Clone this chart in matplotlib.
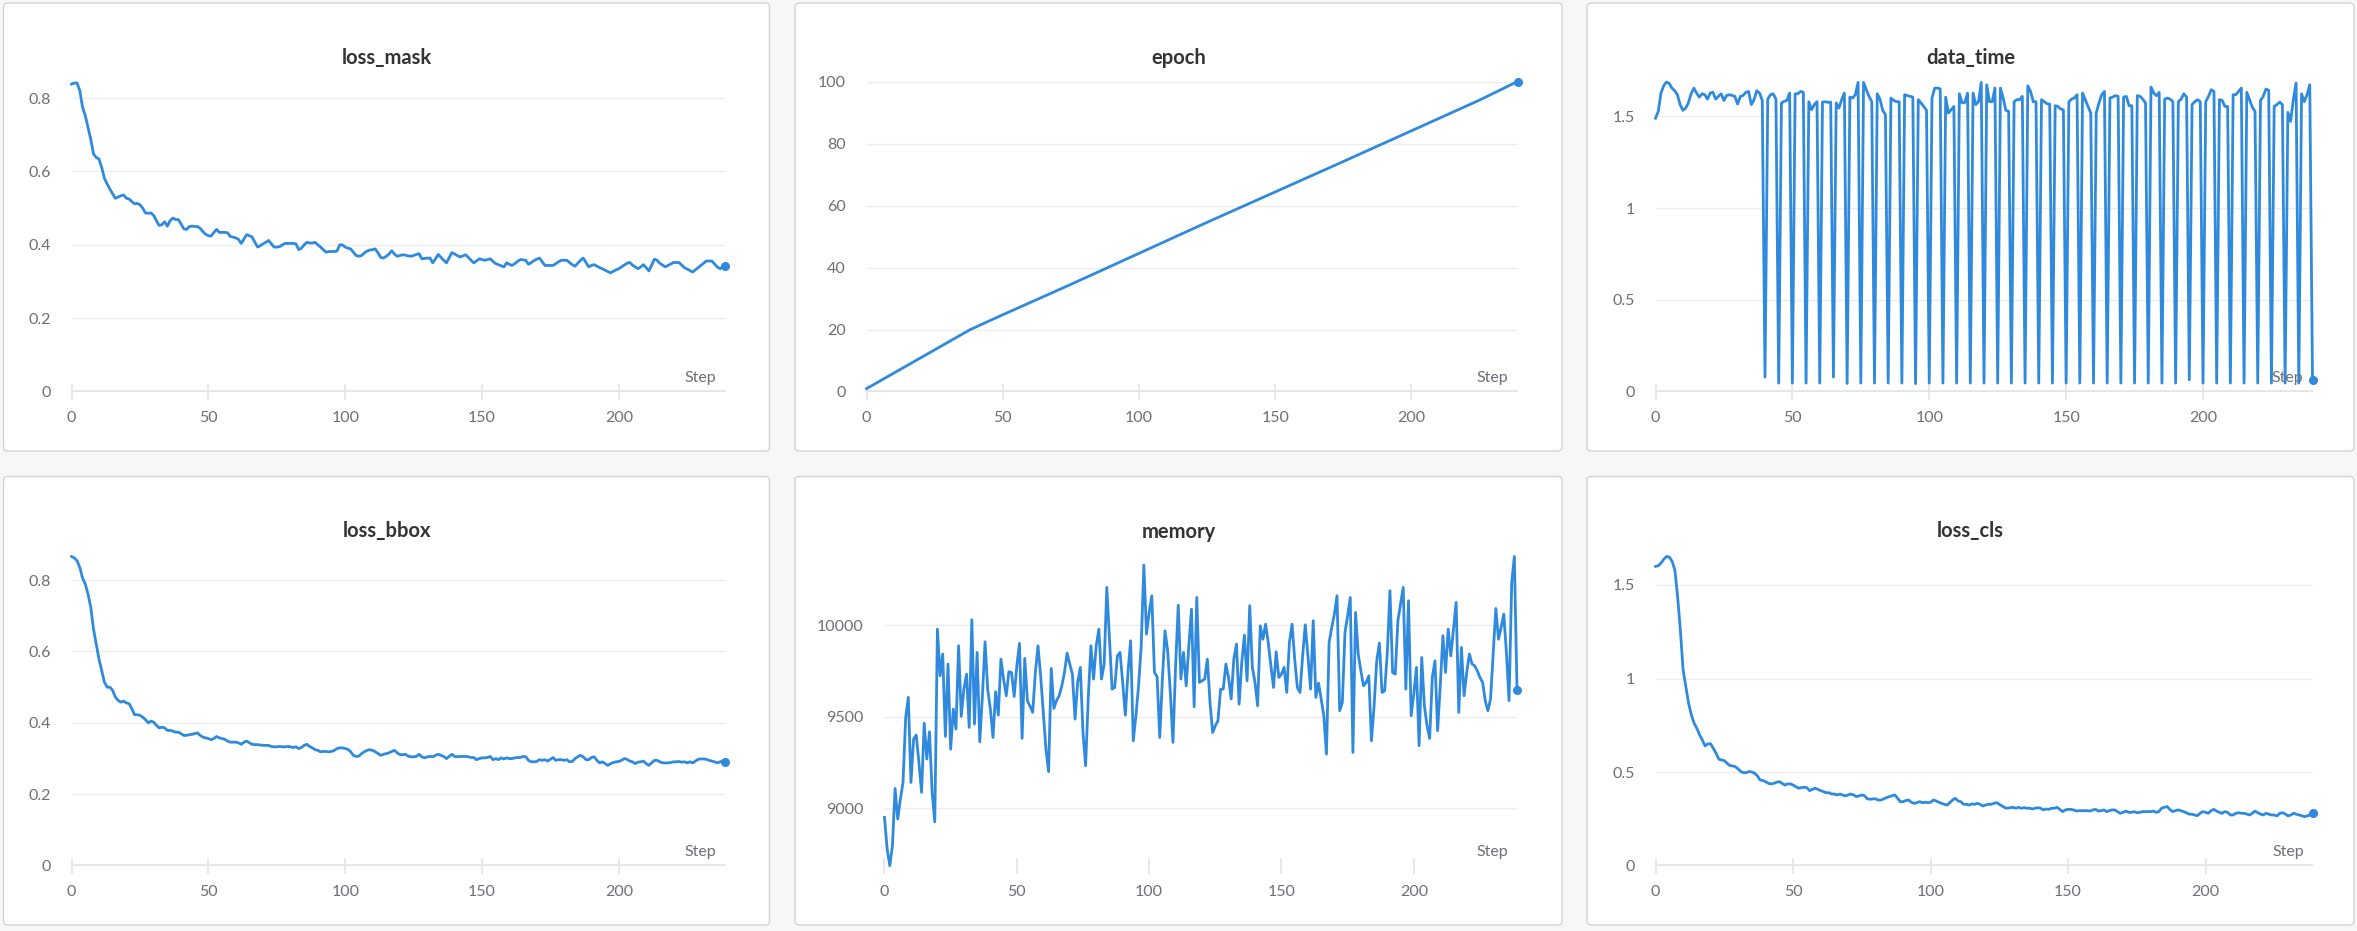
import numpy as np
import matplotlib.pyplot as plt
from matplotlib.patches import FancyBboxPatch
from matplotlib.transforms import IdentityTransform
from matplotlib.ticker import FuncFormatter

plt.rcParams['font.family'] = ['Lato', 'DejaVu Sans']

W, H = 2357, 931
LINE = '#2f8ade'
TICK_TXT = '#6e6e78'

# ---- data ----
steps = np.arange(240)
steps_dt = np.arange(241)

loss_mask = [
    0.838, 0.841, 0.841, 0.82, 0.775, 0.752, 0.72, 0.688, 0.648, 0.638,
    0.634, 0.611, 0.581, 0.566, 0.552, 0.539, 0.527, 0.53, 0.534, 0.536,
    0.527, 0.525, 0.518, 0.512, 0.513, 0.509, 0.5, 0.487, 0.486, 0.487,
    0.48, 0.466, 0.453, 0.455, 0.463, 0.451, 0.466, 0.473, 0.469, 0.469,
    0.457, 0.444, 0.442, 0.45, 0.451, 0.45, 0.45, 0.445, 0.436, 0.429,
    0.425, 0.424, 0.434, 0.442, 0.434, 0.434, 0.434, 0.433, 0.423, 0.421,
    0.419, 0.415, 0.404, 0.416, 0.428, 0.425, 0.421, 0.407, 0.394, 0.398,
    0.403, 0.407, 0.412, 0.403, 0.394, 0.394, 0.395, 0.4, 0.404, 0.404,
    0.404, 0.404, 0.403, 0.387, 0.391, 0.4, 0.407, 0.405, 0.405, 0.407,
    0.4, 0.394, 0.387, 0.38, 0.382, 0.382, 0.382, 0.383, 0.4, 0.4,
    0.394, 0.391, 0.389, 0.38, 0.371, 0.369, 0.371, 0.378, 0.383, 0.386,
    0.387, 0.389, 0.378, 0.366, 0.364, 0.369, 0.375, 0.384, 0.375,
    0.369, 0.371, 0.373, 0.372, 0.37, 0.369, 0.371, 0.374, 0.376, 0.362,
    0.363, 0.364, 0.364, 0.351, 0.362, 0.374, 0.366, 0.358, 0.351, 0.365,
    0.379, 0.375, 0.371, 0.367, 0.37, 0.373, 0.366, 0.358, 0.351, 0.356,
    0.362, 0.36, 0.358, 0.36, 0.362, 0.355, 0.349, 0.346, 0.343, 0.34,
    0.351, 0.347, 0.344, 0.349, 0.355, 0.36, 0.359, 0.358, 0.347, 0.352,
    0.357, 0.361, 0.364, 0.354, 0.344, 0.344, 0.344, 0.344, 0.349, 0.354,
    0.358, 0.358, 0.358, 0.352, 0.346, 0.342, 0.35, 0.358, 0.364, 0.352,
    0.34, 0.344, 0.346, 0.342, 0.338, 0.335, 0.331, 0.327, 0.324, 0.328,
    0.332, 0.335, 0.34, 0.345, 0.35, 0.352, 0.345, 0.34, 0.335, 0.34,
    0.346, 0.338, 0.329, 0.345, 0.361, 0.358, 0.35, 0.345, 0.34, 0.344,
    0.348, 0.352, 0.352, 0.352, 0.345, 0.338, 0.334, 0.33, 0.326, 0.332,
    0.338, 0.344, 0.35, 0.356, 0.356, 0.356, 0.348, 0.34, 0.335, 0.34,
    0.342,
]

epoch_steps = [0, 10, 20, 30, 38, 50, 75, 100, 125, 150, 175, 200, 225, 239]
epoch = [1, 6, 11, 16, 20, 24.8, 34.6, 44.6, 54.6, 64.4, 74.2, 84.1, 94, 100]

data_time = [
    1.49, 1.527, 1.627, 1.667, 1.687, 1.68, 1.654, 1.64, 1.618, 1.564,
    1.533, 1.545, 1.573, 1.623, 1.654, 1.627, 1.605, 1.623, 1.618, 1.594,
    1.627, 1.631, 1.594, 1.609, 1.623, 1.587, 1.614, 1.618, 1.614, 1.609,
    1.567, 1.609, 1.614, 1.631, 1.636, 1.564, 1.591, 1.64, 1.627, 1.587,
    0.08, 1.594, 1.618, 1.623, 1.594, 0.047, 1.573, 1.582, 1.587, 1.627,
    0.047, 1.623, 1.623, 1.636, 1.631, 0.047, 1.58, 1.536, 1.564, 1.58,
    0.047, 1.578, 1.58, 1.576, 1.578, 0.08, 1.573, 1.545, 1.591, 1.627,
    0.045, 1.605, 1.6, 1.618, 1.685, 0.047, 1.685, 1.645, 1.609, 1.58,
    0.047, 1.623, 1.594, 1.533, 1.509, 0.047, 1.6, 1.587, 1.58, 1.58,
    0.047, 1.618, 1.613, 1.609, 1.605, 0.044, 1.591, 1.573, 1.554, 1.533,
    0.047, 1.6, 1.654, 1.654, 1.65, 0.047, 1.605, 1.518, 1.536, 1.554,
    0.047, 1.623, 1.573, 1.576, 1.627, 0.047, 1.627, 1.564, 1.58, 1.685,
    0.047, 1.672, 1.58, 1.58, 1.654, 0.047, 1.654, 1.6, 1.533, 1.527,
    0.047, 1.58, 1.591, 1.591, 1.609, 0.047, 1.667, 1.636, 1.58, 1.58,
    0.047, 1.591, 1.58, 1.569, 1.567, 0.047, 1.558, 1.554, 1.54, 1.536,
    0.047, 1.58, 1.594, 1.6, 1.618, 0.047, 1.627, 1.591, 1.554, 1.518,
    0.047, 1.518, 1.573, 1.618, 1.636, 0.047, 1.6, 1.605, 1.613, 1.609,
    0.047, 1.605, 1.609, 1.558, 1.558, 0.047, 1.613, 1.609, 1.594, 1.573,
    0.047, 1.66, 1.627, 1.613, 1.631, 0.047, 1.594, 1.6, 1.594, 1.58,
    0.047, 1.58, 1.594, 1.623, 1.605, 0.065, 1.564, 1.58, 1.591, 1.58,
    0.047, 1.58, 1.609, 1.645, 1.636, 0.047, 1.591, 1.587, 1.554, 1.554,
    0.047, 1.618, 1.618, 1.636, 1.654, 0.047, 1.631, 1.591, 1.551, 1.527,
    0.047, 1.587, 1.609, 1.649, 1.642, 0.047, 1.554, 1.564, 1.578, 1.564,
    0.047, 1.522, 1.473, 1.591, 1.682, 0.047, 1.623, 1.58, 1.618, 1.672,
    0.062,
]

loss_bbox = [
    0.866, 0.862, 0.854, 0.835, 0.806, 0.789, 0.761, 0.724, 0.663, 0.621,
    0.579, 0.547, 0.514, 0.5, 0.5, 0.491, 0.472, 0.463, 0.458, 0.461,
    0.456, 0.454, 0.44, 0.423, 0.423, 0.421, 0.416, 0.409, 0.4, 0.405,
    0.402, 0.393, 0.386, 0.388, 0.386, 0.379, 0.379, 0.377, 0.374, 0.374,
    0.37, 0.365, 0.365, 0.367, 0.368, 0.37, 0.372, 0.365, 0.36, 0.358,
    0.356, 0.353, 0.356, 0.362, 0.358, 0.356, 0.354, 0.349, 0.346, 0.346,
    0.346, 0.344, 0.34, 0.346, 0.349, 0.344, 0.34, 0.339, 0.339, 0.338,
    0.337, 0.337, 0.337, 0.334, 0.333, 0.333, 0.334, 0.333, 0.333, 0.334,
    0.333, 0.331, 0.333, 0.328, 0.331, 0.337, 0.34, 0.334, 0.33, 0.325,
    0.323, 0.319, 0.32, 0.32, 0.319, 0.32, 0.323, 0.328, 0.33, 0.33,
    0.328, 0.326, 0.319, 0.309, 0.306, 0.307, 0.314, 0.319, 0.323, 0.325,
    0.323, 0.319, 0.314, 0.309, 0.312, 0.314, 0.316, 0.32, 0.323, 0.316,
    0.311, 0.311, 0.312, 0.307, 0.305, 0.305, 0.306, 0.312, 0.305, 0.302,
    0.305, 0.306, 0.305, 0.309, 0.312, 0.309, 0.306, 0.3, 0.306, 0.312,
    0.306, 0.305, 0.306, 0.306, 0.306, 0.305, 0.303, 0.303, 0.297, 0.3,
    0.302, 0.302, 0.303, 0.306, 0.297, 0.3, 0.297, 0.302, 0.299, 0.302,
    0.3, 0.3, 0.302, 0.303, 0.303, 0.306, 0.305, 0.295, 0.291, 0.291,
    0.292, 0.297, 0.295, 0.297, 0.293, 0.298, 0.303, 0.295, 0.297, 0.297,
    0.295, 0.297, 0.291, 0.292, 0.3, 0.305, 0.309, 0.305, 0.297, 0.297,
    0.303, 0.305, 0.295, 0.288, 0.291, 0.286, 0.281, 0.286, 0.289, 0.291,
    0.292, 0.295, 0.3, 0.298, 0.293, 0.291, 0.286, 0.29, 0.291, 0.293,
    0.286, 0.281, 0.288, 0.295, 0.295, 0.291, 0.288, 0.288, 0.288, 0.289,
    0.291, 0.291, 0.292, 0.29, 0.291, 0.288, 0.291, 0.288, 0.293, 0.298,
    0.299, 0.299, 0.298, 0.295, 0.293, 0.291, 0.288, 0.291, 0.293, 0.291,
]

memory = [
    8949, 8776, 8685, 8794, 9107, 8940, 9049, 9140, 9495, 9605,
    9140, 9377, 9399, 9250, 9086, 9464, 9268, 9417, 9086, 8925,
    9978, 9723, 9842, 9392, 9787, 9322, 9541, 9432, 9887, 9501,
    9650, 9732, 9441, 10029, 9459, 9851, 9362, 9614, 9909, 9650,
    9541, 9386, 9636, 9508, 9814, 9705, 9614, 9745, 9741, 9610,
    9778, 9900, 9381, 9818, 9587, 9556, 9523, 9741, 9887, 9723,
    9523, 9322, 9199, 9763, 9545, 9587, 9614, 9668, 9741, 9847,
    9787, 9732, 9486, 9687, 9769, 9413, 9231, 9605, 9887, 9705,
    9887, 9978, 9705, 9787, 10206, 9924, 9650, 9659, 9832, 9851,
    9687, 9508, 9741, 9914, 9368, 9505, 9668, 9887, 10328, 9951,
    10069, 10160, 9741, 9719, 9386, 9705, 9969, 9860, 9632, 9359,
    9778, 10109, 9705, 9851, 9668, 9887, 10087, 9554, 10151,
    9687, 9696, 9705, 9814, 9577, 9413, 9450, 9477, 9650, 9650,
    9787, 9714, 9596, 9814, 9896, 9568, 9796, 9945, 9696, 10106,
    9769, 9687, 9559, 9996, 9923, 10005, 9905, 9778, 9659, 9854,
    9714, 9732, 9769, 9632, 9905, 10005, 9814, 9659, 9632, 9832,
    10002, 9832, 9650, 10024, 9605, 9683, 9596, 9505, 9295, 9905,
    9987, 10060, 10160, 9532, 9577, 9960, 10051, 10151, 9304, 10069,
    9842, 9750, 9668, 9687, 9723, 9368, 9559, 9805, 9902, 9632,
    9641, 9851, 10188, 9741, 9732, 10024, 10115, 10206, 9650, 10133,
    9505, 9623, 9769, 9341, 9823, 9559, 9450, 9381, 9714, 9805,
    9423, 9668, 9942, 9741, 9978, 9832, 9978, 10124, 9523, 9878,
    9614, 9741, 9842, 9787, 9778, 9750, 9714, 9687, 9587, 9532,
    9596, 9842, 10091, 9923, 9987, 10060, 9851, 9587, 10233, 10375,
    9647,
]

loss_cls = [
    1.599, 1.603, 1.617, 1.638, 1.652, 1.649, 1.626, 1.581, 1.438, 1.26,
    1.046, 0.957, 0.868, 0.806, 0.761, 0.734, 0.699, 0.672, 0.64, 0.651,
    0.651, 0.627, 0.601, 0.569, 0.565, 0.561, 0.547, 0.535, 0.533, 0.529,
    0.517, 0.503, 0.497, 0.497, 0.503, 0.501, 0.494, 0.48, 0.458, 0.455,
    0.449, 0.44, 0.437, 0.44, 0.446, 0.449, 0.44, 0.431, 0.437, 0.437,
    0.431, 0.422, 0.414, 0.417, 0.419, 0.417, 0.401, 0.408, 0.414, 0.408,
    0.401, 0.396, 0.39, 0.39, 0.383, 0.383, 0.378, 0.383, 0.378, 0.373,
    0.378, 0.383, 0.378, 0.369, 0.373, 0.378, 0.374, 0.357, 0.355, 0.357,
    0.357, 0.351, 0.351, 0.357, 0.364, 0.369, 0.374, 0.378, 0.36, 0.342,
    0.342, 0.348, 0.351, 0.339, 0.333, 0.337, 0.342, 0.337, 0.339, 0.337,
    0.339, 0.351, 0.346, 0.339, 0.333, 0.328, 0.324, 0.337, 0.351, 0.36,
    0.346, 0.342, 0.328, 0.328, 0.324, 0.33, 0.328, 0.333, 0.328, 0.319,
    0.324, 0.328, 0.328, 0.333, 0.337, 0.328, 0.319, 0.31, 0.307, 0.31,
    0.312, 0.307, 0.312, 0.307, 0.31, 0.307, 0.307, 0.303, 0.307, 0.31,
    0.307, 0.298, 0.303, 0.301, 0.307, 0.307, 0.312, 0.301, 0.289, 0.298,
    0.301, 0.301, 0.298, 0.292, 0.294, 0.294, 0.294, 0.294, 0.292, 0.298,
    0.301, 0.292, 0.294, 0.298, 0.289, 0.294, 0.298, 0.298, 0.289, 0.28,
    0.285, 0.292, 0.285, 0.285, 0.289, 0.283, 0.285, 0.289, 0.289, 0.289,
    0.289, 0.292, 0.285, 0.289, 0.307, 0.312, 0.316, 0.301, 0.289, 0.294,
    0.298, 0.294, 0.289, 0.283, 0.276, 0.275, 0.271, 0.267, 0.28, 0.289,
    0.285, 0.28, 0.294, 0.301, 0.292, 0.285, 0.28, 0.289, 0.285, 0.271,
    0.271, 0.28, 0.283, 0.28, 0.28, 0.276, 0.271, 0.28, 0.292, 0.283,
    0.276, 0.271, 0.28, 0.275, 0.271, 0.271, 0.266, 0.28, 0.283, 0.276,
    0.266, 0.271, 0.28, 0.275, 0.271, 0.267, 0.262, 0.266, 0.271, 0.28,
]

# ---- layout (pixels) ----
# card: left, top, right, bottom ; axes: left, top, right, bottom
panels = [
    dict(title='loss_mask', x=steps, y=loss_mask, ylim=(0, 0.841), yticks=[0, 0.2, 0.4, 0.6, 0.8],
         card=(3.5, 3, 769.5, 451), box=(71.6, 83, 725.5, 391.7)),
    dict(title='epoch', x=epoch_steps, y=epoch, ylim=(0, 100), yticks=[0, 20, 40, 60, 80, 100],
         card=(795, 3, 1562, 451), box=(866.6, 81.5, 1517.6, 391.7)),
    dict(title='data_time', x=steps_dt, y=data_time, ylim=(0, 1.69), yticks=[0, 0.5, 1, 1.5],
         card=(1587, 3, 2354, 451), box=(1655.5, 81.5, 2312.5, 391.7)),
    dict(title='loss_bbox', x=steps, y=loss_bbox, ylim=(0, 0.866), yticks=[0, 0.2, 0.4, 0.6, 0.8],
         card=(3.5, 476.5, 769.5, 925), box=(71.6, 556.5, 725.5, 865.7)),
    dict(title='memory', x=steps, y=memory, ylim=(8685, 10375), yticks=[9000, 9500, 10000],
         card=(795, 476.5, 1562, 925), box=(884.5, 556.5, 1517.0, 865.7)),
    dict(title='loss_cls', x=steps, y=loss_cls, ylim=(0, 1.652), yticks=[0, 0.5, 1, 1.5],
         card=(1587, 476.5, 2354, 925), box=(1655.6, 556.5, 2312.8, 865.7)),
]

fig = plt.figure(figsize=(W / 100, H / 100), dpi=100, facecolor='#f7f7f7')

for p in panels:
    cl, ct, cr, cb = p['card']
    card = FancyBboxPatch((cl, H - cb), cr - cl, cb - ct,
                          boxstyle='round,pad=0,rounding_size=4',
                          facecolor='white', edgecolor='#d3d3d3', lw=1.0,
                          transform=IdentityTransform(), zorder=0)
    fig.add_artist(card)

    l, t, r, b = p['box']
    ax = fig.add_axes([l / W, 1 - b / H, (r - l) / W, (b - t) / H])
    ax.set_facecolor('none')
    for s in ax.spines.values():
        s.set_visible(False)

    ax.set_xlim(0, p['x'][-1])
    ax.set_ylim(*p['ylim'])
    ax.set_xticks([0, 50, 100, 150, 200])
    ax.set_yticks(p['yticks'])
    ax.yaxis.set_major_formatter(FuncFormatter(lambda v, pos: f'{v:g}'))

    ax.yaxis.grid(True, color='#ededed', lw=1.0, zorder=0)
    ax.set_axisbelow(True)
    ax.tick_params(axis='x', direction='inout', length=11.5, width=1.1, color='#e2e2e2',
                   pad=8, labelsize=11.5, labelcolor=TICK_TXT)
    ax.tick_params(axis='y', length=0, pad=15, labelsize=11.5, labelcolor=TICK_TXT)

    if p['ylim'][0] == 0:
        ax.axhline(0, color='#e4e4e4', lw=2.6, zorder=1)

    ax.plot(p['x'], p['y'], color=LINE, lw=2.0, solid_joinstyle='round', clip_on=False, zorder=3)
    ax.plot(p['x'][-1], p['y'][-1], 'o', ms=5.5, color=LINE, clip_on=False, zorder=4)

    fig.text((cl + cr) / 2 / W, 1 - (ct + 55) / H, p['title'], ha='center', va='center',
             fontsize=14.5, fontweight='bold', color='#333333')
    fig.text((r - 9) / W, 1 - (b - 13.5) / H, 'Step', ha='right', va='center',
             fontsize=11.5, color=TICK_TXT)

fig.savefig('out.png', dpi=100, facecolor=fig.get_facecolor())
